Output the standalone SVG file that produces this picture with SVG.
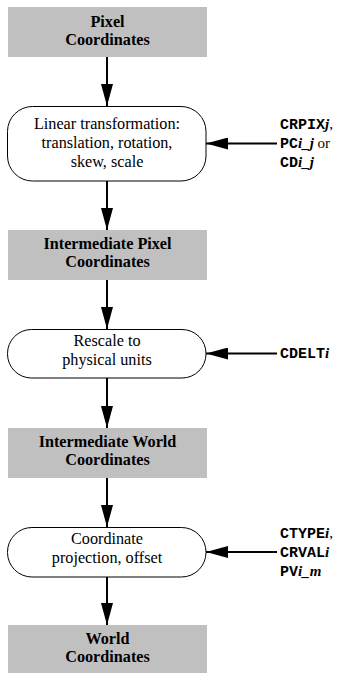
<svg xmlns="http://www.w3.org/2000/svg" width="337" height="673" viewBox="0 0 337 673">
<style>
.box{fill:#c0c0c0;stroke:none}
.rr{fill:#ffffff;stroke:#000000;stroke-width:1}
.t{font-family:'Liberation Serif','Times New Roman',serif;font-size:16.2px;fill:#000;text-anchor:middle}
.b{font-weight:bold}
.lab{font-family:'Liberation Mono','Courier New',monospace;font-size:15px;font-weight:bold;fill:#000}
.it{font-family:'Liberation Serif','Times New Roman',serif;font-style:italic;font-weight:bold}
.rm{font-family:'Liberation Serif','Times New Roman',serif;font-weight:normal}
.ln{stroke:#000;stroke-width:2;fill:none}
</style>
<defs>
<marker id="ah" markerWidth="22" markerHeight="12" refX="22" refY="6" orient="auto" markerUnits="userSpaceOnUse">
<path d="M0,0 L22,6 L0,12 Z" fill="#000"/>
</marker>
</defs>
<rect width="337" height="673" fill="#fff"/>
<g id="connectors">
<line class="ln" x1="107" y1="57" x2="107" y2="106" marker-end="url(#ah)"/>
<line class="ln" x1="107" y1="181" x2="107" y2="230" marker-end="url(#ah)"/>
<line class="ln" x1="107" y1="280" x2="107" y2="329" marker-end="url(#ah)"/>
<line class="ln" x1="107" y1="378" x2="107" y2="428" marker-end="url(#ah)"/>
<line class="ln" x1="107" y1="478" x2="107" y2="527" marker-end="url(#ah)"/>
<line class="ln" x1="107" y1="577" x2="107" y2="625" marker-end="url(#ah)"/>
<line class="ln" x1="277" y1="143.5" x2="206" y2="143.5" marker-end="url(#ah)"/>
<line class="ln" x1="277" y1="353.5" x2="206" y2="353.5" marker-end="url(#ah)"/>
<line class="ln" x1="277" y1="552" x2="206" y2="552" marker-end="url(#ah)"/>
</g>
<g id="pixel">
<rect class="box" x="8" y="7" width="199" height="50"/>
<text class="t b" x="107.5" y="27">Pixel</text>
<text class="t b" x="107.5" y="45">Coordinates</text>
</g>
<g id="linear">
<rect class="rr" x="7.5" y="106.5" width="198.5" height="74.5" rx="25" ry="25"/>
<text class="t" x="107" y="129">Linear transformation:</text>
<text class="t" x="107" y="148">translation, rotation,</text>
<text class="t" x="107" y="167">skew, scale</text>
</g>
<g id="lab1">
<text class="lab" x="280" y="129">CRPIX<tspan class="it">j</tspan><tspan class="rm">,</tspan></text>
<text class="lab" x="280" y="148">PC<tspan class="it">i_j</tspan><tspan class="rm"> or</tspan></text>
<text class="lab" x="280" y="167">CD<tspan class="it">i_j</tspan></text>
</g>
<g id="intpix">
<rect class="box" x="8" y="230" width="199" height="50"/>
<text class="t b" x="107.5" y="249">Intermediate Pixel</text>
<text class="t b" x="107.5" y="267">Coordinates</text>
</g>
<g id="rescale">
<rect class="rr" x="7.5" y="329.5" width="198.5" height="48.5" rx="24" ry="24"/>
<text class="t" x="107" y="346">Rescale to</text>
<text class="t" x="107" y="365">physical units</text>
</g>
<g id="lab2">
<text class="lab" x="280" y="358">CDELT<tspan class="it">i</tspan></text>
</g>
<g id="intworld">
<rect class="box" x="8" y="428" width="199" height="50"/>
<text class="t b" x="107.5" y="447">Intermediate World</text>
<text class="t b" x="107.5" y="465">Coordinates</text>
</g>
<g id="projection">
<rect class="rr" x="7.5" y="527.5" width="198.5" height="49.5" rx="24.5" ry="24.5"/>
<text class="t" x="107" y="544">Coordinate</text>
<text class="t" x="107" y="563">projection, offset</text>
</g>
<g id="lab3">
<text class="lab" x="280" y="538">CTYPE<tspan class="it">i</tspan><tspan class="rm">,</tspan></text>
<text class="lab" x="280" y="557">CRVAL<tspan class="it">i</tspan></text>
<text class="lab" x="280" y="576">PV<tspan class="it">i_m</tspan></text>
</g>
<g id="world">
<rect class="box" x="8" y="625" width="199" height="50"/>
<text class="t b" x="107.5" y="644">World</text>
<text class="t b" x="107.5" y="662">Coordinates</text>
</g>
</svg>
